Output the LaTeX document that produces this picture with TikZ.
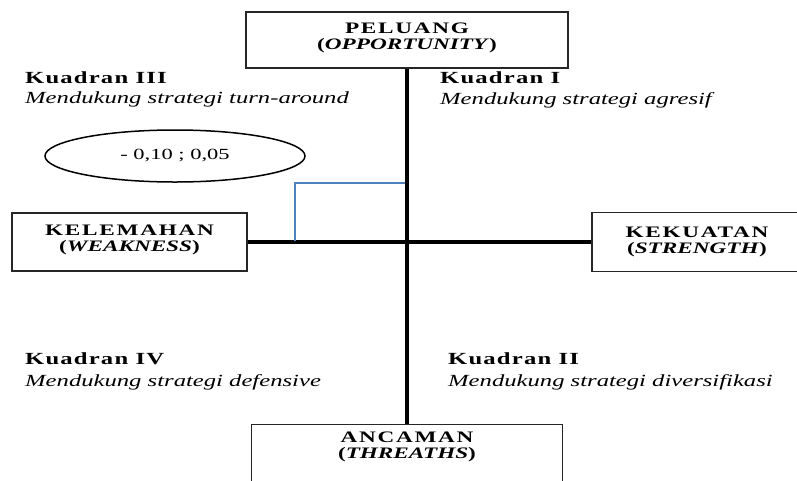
\documentclass[tikz,border=0pt]{standalone}
\usepackage{fontspec}
\setmainfont[FakeStretch=1.45]{Liberation Serif}
\usetikzlibrary{shapes.geometric, positioning}
\definecolor{axisblue}{HTML}{4F81BD}
\newcommand{\spaced}[1]{{\addfontfeature{LetterSpace=11}#1}}
\tikzstyle{axis} = [line width=3.5pt]
\tikzstyle{titlebox} = [rectangle, draw=black!85, line width=1.2pt, align=center, inner sep=7pt, font=\fontsize{16}{16.5}\selectfont\bfseries]
\tikzstyle{quadhead} = [anchor=base west, inner sep=0pt, font=\fontsize{17}{18}\selectfont\bfseries\addfontfeature{LetterSpace=7}]
\tikzstyle{quadtext} = [anchor=base west, inner sep=0pt, font=\fontsize{17}{18}\selectfont\itshape]

\begin{document}
\begin{tikzpicture}[x=1pt, y=-1pt]
\useasboundingbox (0,0) rectangle (797,480);

% Boxes
\node (peluang) [titlebox, minimum width=322, minimum height=56, text depth=8pt] at (407,40) {\spaced{PELUANG}\\(\textit{OPPORTUNITY})};
\node (ancaman) [titlebox, minimum width=311, anchor=north, text depth=40pt] at (407,424) {\spaced{ANCAMAN}\\(\textit{THREATHS})};
\node (kelemahan) [titlebox, minimum width=235, minimum height=58, text depth=8pt] at (129.5,242) {\spaced{KELEMAHAN}\\(\textit{WEAKNESS})};
\node (kekuatan) [titlebox, minimum width=210, minimum height=59] at (697,242) {\spaced{KEKUATAN}\\(\textit{STRENGTH})};

% Axes
\draw [axis] (kelemahan.east) -- (kekuatan.west);
\draw [axis] (peluang.south) -- (ancaman.north);

% Position marker
\coordinate (markA) at (295,241);
\coordinate (markB) at (295,183);
\coordinate (markC) at (405,183);
\draw [axisblue, line width=2pt] (markA) -- (markB) -- (markC);
\node (titik) [ellipse, draw, line width=1.5pt, minimum width=260, minimum height=52, font=\fontsize{15.5}{17}\selectfont] at (175,156) {- 0,10 ; 0,05};

% Quadrant labels
\node (q3head) [quadhead] at (25,83) {Kuadran III};
\node (q3text) [quadtext] at (25,103) {Mendukung strategi turn-around};
\node (q1head) [quadhead] at (440,83) {Kuadran I};
\node (q1text) [quadtext] at (440,104) {Mendukung strategi agresif};
\node (q4head) [quadhead] at (25,364) {Kuadran IV};
\node (q4text) [quadtext] at (25,386) {Mendukung strategi defensive};
\node (q2head) [quadhead] at (448,364) {Kuadran II};
\node (q2text) [quadtext] at (448,386) {Mendukung strategi diversifikasi};

\end{tikzpicture}
\end{document}
